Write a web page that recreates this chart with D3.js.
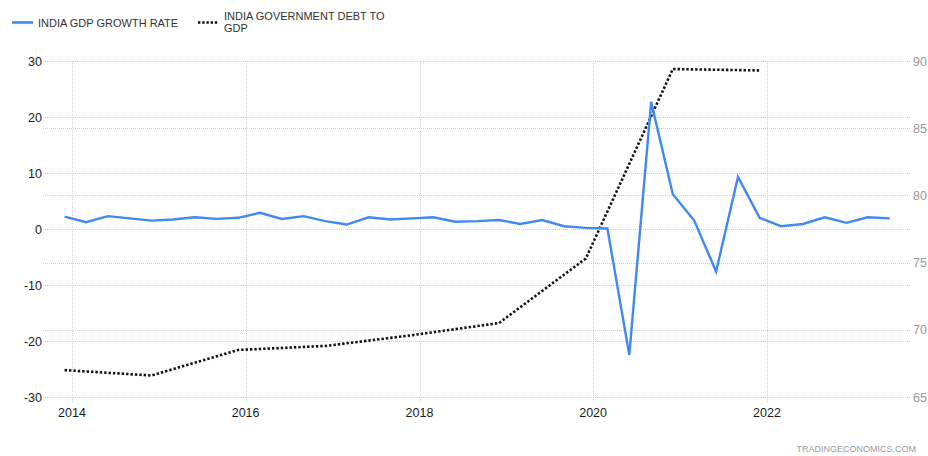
<!DOCTYPE html>
<html><head><meta charset="utf-8">
<script src="https://cdn.jsdelivr.net/npm/d3@7"></script>
<style>body{margin:0;background:#fff}svg{display:block;font-family:"Liberation Sans",Arial,sans-serif}</style>
</head><body><svg id="c" width="928" height="456"></svg>
<script>
// GDP growth rate (QoQ, %), quarterly
const gdpDates = ["2013-12-01","2014-03-01","2014-06-01","2014-09-01","2014-12-01","2015-03-01","2015-06-01","2015-09-01","2015-12-01","2016-03-01","2016-06-01","2016-09-01","2016-12-01","2017-03-01","2017-06-01","2017-09-01","2017-12-01","2018-03-01","2018-06-01","2018-09-01","2018-12-01","2019-03-01","2019-06-01","2019-09-01","2019-12-01","2020-03-01","2020-06-01","2020-09-01","2020-12-01","2021-03-01","2021-06-01","2021-09-01","2021-12-01","2022-03-01","2022-06-01","2022-09-01","2022-12-01","2023-03-01","2023-06-01"];
const gdpValues = [2.2,1.2,2.3,1.9,1.5,1.7,2.1,1.8,2.0,2.9,1.8,2.3,1.4,0.8,2.1,1.7,1.9,2.1,1.3,1.4,1.6,0.9,1.6,0.5,0.2,0.1,-22.5,22.7,6.2,1.5,-7.6,9.3,2.0,0.5,0.9,2.1,1.1,2.1,1.9];
// Government debt to GDP (%), annual
const debtDates = ["2013-12-01","2014-12-01","2015-12-01","2016-12-01","2017-12-01","2018-12-01","2019-12-01","2020-12-01","2021-12-01"];
const debtValues = [67.0,66.6,68.5,68.8,69.6,70.5,75.3,89.4,89.3];
const leftTicks = [-30,-20,-10,0,10,20,30];
const rightTicks = [65,70,75,80,85,90];
const yearTicks = [2014,2016,2018,2020,2022];
const legendLabels = ["INDIA GDP GROWTH RATE", ["INDIA GOVERNMENT DEBT TO","GDP"]];

const svg = d3.select("#c");
const parse = d3.timeParse("%Y-%m-%d");
const L = 43, R = 910, T = 61, B = 397;
const x = d3.scaleTime().domain([new Date(2014,0,1), new Date(2022,0,1)]).range([72, 767]);
const yL = d3.scaleLinear().domain([-30,30]).range([B,T]);
const yR = d3.scaleLinear().domain([65,90]).range([B,T]);
const grid = "#cfcfcf";

// horizontal gridlines (left axis)
svg.append("g").selectAll("line").data(leftTicks).join("line")
  .attr("x1",L).attr("x2",R).attr("y1",d=>yL(d)).attr("y2",d=>yL(d))
  .attr("stroke",grid).attr("stroke-width",1).attr("stroke-dasharray","1,1").attr("shape-rendering","crispEdges");
// horizontal gridlines (right axis)
svg.append("g").selectAll("line").data(rightTicks).join("line")
  .attr("x1",L).attr("x2",R).attr("y1",d=>Math.round(yR(d))+0.5).attr("y2",d=>Math.round(yR(d))+0.5)
  .attr("stroke",grid).attr("stroke-width",1).attr("stroke-dasharray","1,1");
// vertical gridlines
svg.append("g").selectAll("line").data(yearTicks).join("line")
  .attr("x1",d=>Math.round(x(new Date(d,0,1)))+0.5).attr("x2",d=>Math.round(x(new Date(d,0,1)))+0.5)
  .attr("y1",T).attr("y2",B+6)
  .attr("stroke",grid).attr("stroke-width",1).attr("stroke-dasharray","1,1");

// left labels
svg.append("g").selectAll("text").data(leftTicks).join("text")
  .attr("x",42).attr("y",d=>yL(d)).attr("dy","0.36em").attr("text-anchor","end")
  .attr("font-size","12.5px").attr("fill","#1a1a1a").text(d=>d);
// right labels
svg.append("g").selectAll("text").data(rightTicks).join("text")
  .attr("x",913).attr("y",d=>yR(d)).attr("dy","0.36em").attr("text-anchor","start")
  .attr("font-size","12.5px").attr("fill","#9a9a9a").text(d=>d);
// x labels
svg.append("g").selectAll("text").data(yearTicks).join("text")
  .attr("x",d=>x(new Date(d,0,1))).attr("y",417).attr("text-anchor","middle")
  .attr("font-size","12.5px").attr("fill","#1a1a1a").text(d=>d);

// debt line (dotted)
const debt = debtDates.map((d,i)=>({d:parse(d),v:debtValues[i]}));
svg.append("path").datum(debt)
  .attr("d",d3.line().x(d=>x(d.d)).y(d=>yR(d.v)))
  .attr("fill","none").attr("stroke","#111").attr("stroke-width",2.6).attr("stroke-dasharray","2.4,2");

// gdp line
const gdp = gdpDates.map((d,i)=>({d:parse(d),v:gdpValues[i]}));
svg.append("path").datum(gdp)
  .attr("d",d3.line().x(d=>x(d.d)).y(d=>yL(d.v)))
  .attr("fill","none").attr("stroke","#4189f0").attr("stroke-width",2.4).attr("stroke-linejoin","miter");

// legend
const lg = svg.append("g");
lg.append("line").attr("x1",12).attr("x2",33).attr("y1",22.5).attr("y2",22.5).attr("stroke","#4189f0").attr("stroke-width",2.6);
lg.append("text").attr("x",38).attr("y",26.5).attr("font-size","11px").attr("fill","#333").text(legendLabels[0]);
lg.append("line").attr("x1",198).attr("x2",218).attr("y1",22.5).attr("y2",22.5).attr("stroke","#111").attr("stroke-width",2.6).attr("stroke-dasharray","2.4,1.8");
lg.append("text").attr("x",224).attr("y",20).attr("font-size","11px").attr("fill","#333").text(legendLabels[1][0]);
lg.append("text").attr("x",224).attr("y",31.5).attr("font-size","11px").attr("fill","#333").text(legendLabels[1][1]);

// source
svg.append("text").attr("x",916).attr("y",452).attr("text-anchor","end")
  .attr("font-size","9px").attr("fill","#9a9a9a").text("TRADINGECONOMICS.COM");
</script></body></html>
